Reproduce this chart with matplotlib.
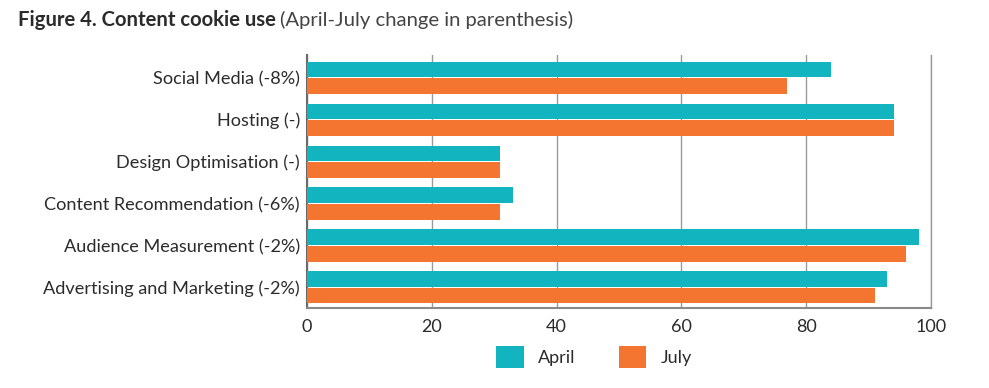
import matplotlib
matplotlib.use("Agg")
import matplotlib.pyplot as plt
import numpy as np
from matplotlib.patches import Patch

categories = ["Advertising and Marketing (-2%)", "Audience Measurement (-2%)",
              "Content Recommendation (-6%)", "Design Optimisation (-)",
              "Hosting (-)", "Social Media (-8%)"]
april = [93, 98, 33, 31, 94, 84]
july = [91, 96, 31, 31, 94, 77]
xticks = [0, 20, 40, 60, 80, 100]

teal = "#12b5bf"
orange = "#f37530"
textc = "#2b2b2b"

plt.rcParams['font.family'] = ['Lato', 'DejaVu Sans']

fig = plt.figure(figsize=(9.89, 3.88), dpi=100)
ax = fig.add_axes([307/989, 1-308/388, (931-307)/989, (308-55)/388])

y = np.arange(len(categories))
h = 0.375
ax.barh(y + 0.195, april, height=h, color=teal, zorder=3)
ax.barh(y - 0.195, july, height=h, color=orange, zorder=3)

ax.set_xlim(0, 100)
ax.set_ylim(-0.49, len(categories) - 1 + 0.54)
ax.set_xticks(xticks)
ax.set_xticklabels([str(t) for t in xticks], fontsize=13, color=textc)
ax.set_yticks(y)
ax.set_yticklabels(categories, fontsize=13.1, color=textc)
ax.tick_params(axis='both', length=0)
ax.tick_params(axis='x', pad=8)
ax.tick_params(axis='y', pad=5)
ax.grid(axis='x', color='#9a9a9a', linewidth=1, zorder=0)
ax.spines['top'].set_visible(False)
ax.spines['left'].set_color('#6a6a6a')
ax.spines['left'].set_linewidth(1.5)
ax.spines['bottom'].set_color('#8a8a8a')
ax.spines['bottom'].set_linewidth(1.5)
ax.spines['right'].set_color('#9a9a9a')
ax.spines['right'].set_linewidth(1)

# Title in two parts
t1 = fig.text(18/989, 1-20/388, "Figure 4. Content cookie use", fontsize=14.6,
              fontweight='bold', color=textc, va='center', ha='left')
fig.canvas.draw()
bb = t1.get_window_extent()
fig.text((bb.x1 + 4)/989, 1-20/388, "(April-July change in parenthesis)", fontsize=14.6,
         color='#444444', va='center', ha='left')

handles = [Patch(facecolor=teal, label="April"), Patch(facecolor=orange, label="July")]
fig.legend(handles=handles, loc='center', bbox_to_anchor=(594/989, 1-357/388), ncol=2,
           frameon=False, fontsize=13, handlelength=1.5, handleheight=1.5,
           handletextpad=0.8, columnspacing=2.4, labelcolor=textc)

fig.savefig("out.png", dpi=100)
